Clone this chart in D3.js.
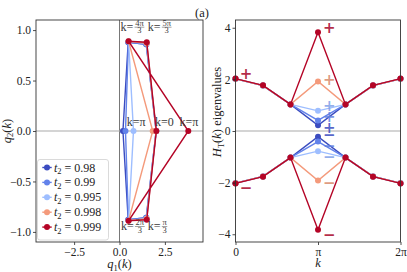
<!DOCTYPE html>
<html>
<head>
<meta charset="utf-8">
<script src="https://cdnjs.cloudflare.com/ajax/libs/d3/7.8.5/d3.min.js"></script>
<style>
    body { margin: 0; background: #fff; }
    svg { display: block; font-family: "Liberation Serif", "DejaVu Serif", serif; }
</style>
</head>
<body>
<div id="chart"></div>
<script>
// hopping values in the legend
var t2Values = [0.98, 0.99, 0.995, 0.998, 0.999];
var seriesColors = ["#3b4cc0", "#6282ea", "#9ebeff", "#f49a7b", "#b40426"];
var glyphColors = ["#3b4cc0", "#5f7fe0", "#7f9fe8", "#d98a6c", "#a8062a"];

// q-vector at k = 0, pi/3, 2pi/3, pi, 4pi/3, 5pi/3
var q1Data = [
    [2.02, 1.47, 0.48, 0.19, 0.48, 1.47],
    [2.02, 1.48, 0.49, 0.33, 0.49, 1.48],
    [2.02, 1.49, 0.50, 0.77, 0.50, 1.49],
    [2.02, 1.50, 0.50, 1.83, 0.50, 1.50],
    [2.03, 1.50, 0.50, 3.79, 0.50, 1.50]
];
var q2Data = [
    [0, -0.86, -0.88, 0, 0.88, 0.86],
    [0, -0.86, -0.88, 0, 0.88, 0.86],
    [0, -0.87, -0.89, 0, 0.89, 0.87],
    [0, -0.87, -0.89, 0, 0.89, 0.87],
    [0, -0.88, -0.89, 0, 0.89, 0.88]
];

// eigenvalue (+) at k = 0 ... 2pi, the (-) band is the mirror
var kGrid = [0, Math.PI / 3, 2 * Math.PI / 3, Math.PI, 4 * Math.PI / 3, 5 * Math.PI / 3, 2 * Math.PI];
var eigData = [
    [2.02, 1.76, 1.03, 0.22, 1.03, 1.76, 2.02],
    [2.02, 1.76, 1.03, 0.41, 1.03, 1.76, 2.02],
    [2.02, 1.76, 1.03, 0.78, 1.03, 1.76, 2.02],
    [2.02, 1.76, 1.03, 1.92, 1.03, 1.76, 2.02],
    [2.03, 1.77, 1.03, 3.83, 1.03, 1.77, 2.03]
];

// +/- glyph heights next to k = pi
var plusY = [0.12, 0.53, 0.98, 1.99, 3.98];
var minusY = [-0.16, -0.60, -1.00, -2.02, -4.04];
var glyphK = 3.57;
var edgeGlyphK = 0.40, edgeGlyphY = 2.2;

// k annotations in the left panel (left edge, baseline in data units)
var kNotes = [
    { num: "4π", den: "3", q1: 0.06, q2: 0.99 },
    { num: "5π", den: "3", q1: 1.56, q2: 0.99 },
    { txt: "π", q1: 0.40, q2: 0.045 },
    { txt: "0", q1: 1.96, q2: 0.045 },
    { txt: "π", q1: 3.30, q2: 0.045 },
    { num: "2π", den: "3", q1: 0.08, q2: -0.985 },
    { num: "π", den: "3", q1: 1.56, q2: -0.985 }
];

var leftTicksX = [-2.5, 0, 2.5];
var leftTicksY = [-1, -0.5, 0, 0.5, 1];
var rightTicksY = [-4, -2, 0, 2, 4];
var rightTicksX = [0, Math.PI, 2 * Math.PI];
var rightTickLabels = ["0", "π", "2π"];

(function() {
var W = 407, H = 272;
var svg = d3.select("#chart").append("svg").attr("width", W).attr("height", H);

var plotTop = 20, plotBottom = 242;
var fmtMinus = function(s) { return s.replace("-", "\u2212"); };

var xL = d3.scaleLinear().domain([-4.6, 4.6]).range([36, 203]);
var yL = d3.scaleLinear().domain([-1.1, 1.1]).range([plotBottom, plotTop]);
var xR = d3.scaleLinear().domain([0, 2 * Math.PI]).range([235.5, 400.5]);
var yR = d3.scaleLinear().domain([-4.3, 4.3]).range([plotBottom, plotTop]);

function styleAxis(g) {
    g.select(".domain").remove();
    g.selectAll(".tick line").attr("stroke", "#222").attr("stroke-width", 0.8);
    g.selectAll(".tick text").attr("fill", "#222")
        .style("font-family", "'Liberation Serif', serif").style("font-size", "11.5px");
}

function drawFrame(x0, x1) {
    svg.append("rect")
        .attr("x", x0).attr("y", plotTop)
        .attr("width", x1 - x0).attr("height", plotBottom - plotTop)
        .attr("fill", "none").attr("stroke", "#333").attr("stroke-width", 0.9);
}

// ---------- left panel ----------
var left = svg.append("g");

left.append("line")
    .attr("x1", xL(0)).attr("x2", xL(0)).attr("y1", plotTop).attr("y2", plotBottom)
    .attr("stroke", "#555").attr("stroke-width", 0.8);
left.append("line")
    .attr("x1", xL.range()[0]).attr("x2", xL.range()[1]).attr("y1", yL(0)).attr("y2", yL(0))
    .attr("stroke", "#aaa").attr("stroke-width", 1.2);

var loop = d3.line()
    .x(function(d) { return xL(d[0]); })
    .y(function(d) { return yL(d[1]); })
    .curve(d3.curveLinearClosed);

t2Values.forEach(function(t, i) {
    var pts = q1Data[i].map(function(v, j) { return [v, q2Data[i][j]]; });
    left.append("path")
        .attr("d", loop(pts))
        .attr("fill", "none")
        .attr("stroke", seriesColors[i])
        .attr("stroke-width", 1.4);
    left.selectAll(null)
        .data(pts)
        .enter()
        .append("circle")
        .attr("cx", function(d) { return xL(d[0]); })
        .attr("cy", function(d) { return yL(d[1]); })
        .attr("r", 3)
        .attr("fill", seriesColors[i]);
});

// k = ... labels, with small stacked fractions
kNotes.forEach(function(n) {
    var x = xL(n.q1), y = yL(n.q2);
    var g = left.append("g").attr("fill", "#3a3a3a");
    var head = g.append("text").attr("x", x).attr("y", y)
        .style("font-size", "12px")
        .text("k=" + (n.txt || ""));
    if (n.num) {
        var w = head.node().getComputedTextLength() + 1.2;
        var numT = g.append("text").attr("x", x + w).attr("y", y - 5.6)
            .style("font-size", "8.5px").text(n.num);
        var fw = numT.node().getComputedTextLength();
        var cx = x + w + fw / 2 + 0.6;
        numT.attr("x", cx).attr("text-anchor", "middle");
        g.append("line")
            .attr("x1", cx - fw / 2 - 0.6).attr("x2", cx + fw / 2 + 0.6)
            .attr("y1", y - 3.9).attr("y2", y - 3.9)
            .attr("stroke", "#444").attr("stroke-width", 0.5);
        g.append("text").attr("x", cx).attr("y", y + 2.3)
            .attr("text-anchor", "middle")
            .style("font-size", "8.5px").text(n.den);
    }
});

drawFrame(36, 203);

left.append("g")
    .attr("transform", "translate(0," + plotBottom + ")")
    .call(d3.axisBottom(xL).tickValues(leftTicksX).tickSize(3).tickPadding(3)
        .tickFormat(function(d) { return fmtMinus(d3.format(".1f")(d)); }))
    .call(styleAxis);
left.append("g")
    .attr("transform", "translate(36,0)")
    .call(d3.axisLeft(yL).tickValues(leftTicksY).tickSize(3).tickPadding(2)
        .tickFormat(function(d) { return fmtMinus(d3.format(".1f")(d)); }))
    .call(styleAxis);

// legend
var legend = svg.append("g");
legend.append("rect")
    .attr("x", 37.5).attr("y", 159.5).attr("width", 71).attr("height", 80.5)
    .attr("rx", 2.5).attr("fill", "#fff").attr("fill-opacity", 0.85)
    .attr("stroke", "#d0d0d0").attr("stroke-width", 0.8);
t2Values.forEach(function(t, i) {
    var ly = 167.5 + i * 14.9;
    legend.append("line")
        .attr("x1", 42.3).attr("x2", 51.7).attr("y1", ly).attr("y2", ly)
        .attr("stroke", seriesColors[i]).attr("stroke-width", 1.4);
    legend.append("circle").attr("cx", 47).attr("cy", ly).attr("r", 3).attr("fill", seriesColors[i]);
    var tx = legend.append("text").attr("x", 54).attr("y", ly + 4)
        .attr("fill", "#222").style("font-size", "12px");
    tx.append("tspan").style("font-style", "italic").text("t");
    tx.append("tspan").attr("dy", 2.5).style("font-size", "8.5px").text("2");
    tx.append("tspan").attr("dy", -2.5).text(" = " + t);
});

// axis labels
var ql = svg.append("text").attr("x", 119.5).attr("y", 268)
    .attr("text-anchor", "middle").attr("fill", "#222").style("font-size", "12.5px");
ql.append("tspan").style("font-style", "italic").text("q");
ql.append("tspan").attr("dy", 2.5).style("font-size", "8.5px").text("1");
ql.append("tspan").attr("dy", -2.5).text("(");
ql.append("tspan").style("font-style", "italic").text("k");
ql.append("tspan").text(")");

var q2l = svg.append("text").attr("transform", "translate(10.5,131) rotate(-90)")
    .attr("text-anchor", "middle").attr("fill", "#222").style("font-size", "12.5px");
q2l.append("tspan").style("font-style", "italic").text("q");
q2l.append("tspan").attr("dy", 2.5).style("font-size", "8.5px").text("2");
q2l.append("tspan").attr("dy", -2.5).text("(");
q2l.append("tspan").style("font-style", "italic").text("k");
q2l.append("tspan").text(")");

// ---------- right panel ----------
var right = svg.append("g");

right.append("line")
    .attr("x1", xR.range()[0]).attr("x2", xR.range()[1]).attr("y1", yR(0)).attr("y2", yR(0))
    .attr("stroke", "#aaa").attr("stroke-width", 1.2);

var band = d3.line()
    .x(function(d) { return xR(d[0]); })
    .y(function(d) { return yR(d[1]); });

t2Values.forEach(function(t, i) {
    [1, -1].forEach(function(sign) {
        var pts = kGrid.map(function(k, j) { return [k, sign * eigData[i][j]]; });
        right.append("path")
            .attr("d", band(pts))
            .attr("fill", "none")
            .attr("stroke", seriesColors[i])
            .attr("stroke-width", 1.4);
        right.selectAll(null)
            .data(pts)
            .enter()
            .append("circle")
            .attr("cx", function(d) { return xR(d[0]); })
            .attr("cy", function(d) { return yR(d[1]); })
            .attr("r", 3)
            .attr("fill", seriesColors[i]);
    });
});

// sign glyphs
function glyph(k, v, s, color) {
    right.append("text")
        .attr("x", xR(k)).attr("y", yR(v))
        .attr("text-anchor", "middle").attr("dominant-baseline", "central")
        .attr("fill", color).attr("fill-opacity", 0.85)
        .style("font-family", "'DejaVu Sans', sans-serif")
        .style("font-weight", "bold").style("font-size", "15px")
        .text(s);
}
t2Values.forEach(function(t, i) {
    glyph(glyphK, plusY[i], "+", glyphColors[i]);
    glyph(glyphK, minusY[i], "\u2212", glyphColors[i]);
});
glyph(edgeGlyphK, edgeGlyphY, "+", glyphColors[4]);
glyph(edgeGlyphK, -edgeGlyphY, "\u2212", glyphColors[4]);

drawFrame(235.5, 400.5);

right.append("g")
    .attr("transform", "translate(0," + plotBottom + ")")
    .call(d3.axisBottom(xR).tickValues(rightTicksX).tickSize(3).tickPadding(3)
        .tickFormat(function(d, i) { return rightTickLabels[i]; }))
    .call(styleAxis);
right.append("g")
    .attr("transform", "translate(235.5,0)")
    .call(d3.axisLeft(yR).tickValues(rightTicksY).tickSize(3).tickPadding(2)
        .tickFormat(function(d) { return fmtMinus(d3.format("d")(d)); }))
    .call(styleAxis);

svg.append("text").attr("x", 318).attr("y", 266.5)
    .attr("text-anchor", "middle").attr("fill", "#222")
    .style("font-size", "12.5px").style("font-style", "italic").text("k");

var hl = svg.append("text").attr("transform", "translate(221,112) rotate(-90)")
    .attr("text-anchor", "middle").attr("fill", "#222").style("font-size", "12.5px");
hl.append("tspan").style("font-style", "italic").text("H");
hl.append("tspan").attr("dy", 2.5).style("font-size", "8.5px").text("T");
hl.append("tspan").attr("dy", -2.5).text("(");
hl.append("tspan").style("font-style", "italic").text("k");
hl.append("tspan").text(") eigenvalues");

// panel tag
svg.append("text").attr("x", 195).attr("y", 16.5)
    .attr("fill", "#222").style("font-size", "12.5px").text("(a)");
})();
</script>
</body>
</html>
